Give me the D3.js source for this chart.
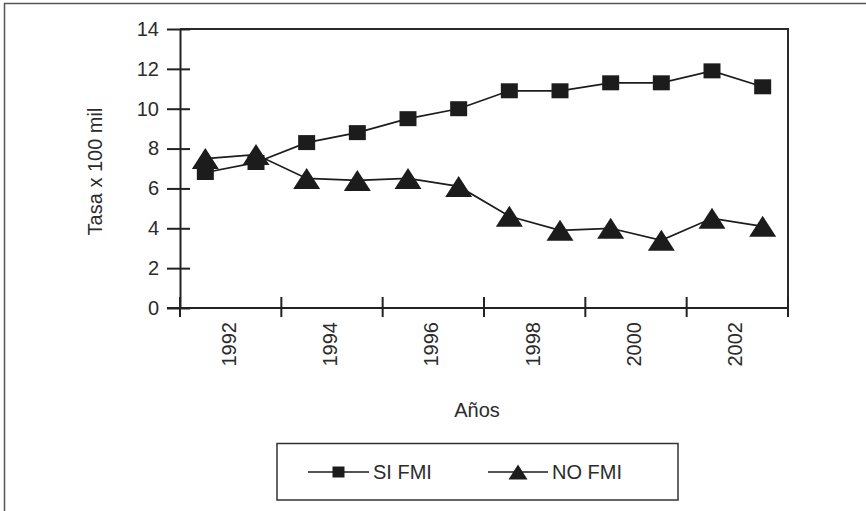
<!DOCTYPE html>
<html>
<head>
<meta charset="utf-8">
<script src="https://cdn.jsdelivr.net/npm/d3@7/dist/d3.min.js"></script>
<style>
  html, body { margin: 0; padding: 0; background: #fff; }
  svg { display: block; }
  text { font-family: "Liberation Sans", Arial, Helvetica, sans-serif; fill: #2b2b2b; }
</style>
</head>
<body>
<svg id="chart" width="866" height="511"></svg>
<script>
// Tasa x 100 mil por año, con y sin FMI
const years = [1992, 1993, 1994, 1995, 1996, 1997, 1998, 1999, 2000, 2001, 2002, 2003];
const siFMI = [6.8, 7.3, 8.3, 8.8, 9.5, 10.0, 10.9, 10.9, 11.3, 11.3, 11.9, 11.1];
const noFMI = [7.5, 7.7, 6.5, 6.4, 6.5, 6.1, 4.6, 3.9, 4.0, 3.4, 4.5, 4.1];
const yTicks = [0, 2, 4, 6, 8, 10, 12, 14];
const labelYears = [1992, 1994, 1996, 1998, 2000, 2002];
const seriesNames = ["SI FMI", "NO FMI"];

const ink = "#1c1c1c";
const svg = d3.select("#chart");

const plot = { left: 180, right: 788, top: 29, bottom: 308 };

const x = d3.scaleBand().domain(years).range([plot.left, plot.right]).padding(0);
const y = d3.scaleLinear().domain([0, 14]).range([plot.bottom, plot.top]);
const cx = d => x(d) + x.bandwidth() / 2;

// outer frame (only top and left edges fall inside the page)
svg.append("line").attr("x1", 4).attr("x2", 866).attr("y1", 3.5).attr("y2", 3.5)
  .attr("stroke", "#555").attr("stroke-width", 1.5);
svg.append("line").attr("x1", 4.5).attr("x2", 4.5).attr("y1", 3).attr("y2", 511)
  .attr("stroke", "#555").attr("stroke-width", 1.5);

// plot frame: top and right edges
svg.append("path")
  .attr("d", `M${plot.left},${y(14)}H${plot.right}V${plot.bottom + 9}`)
  .attr("fill", "none").attr("stroke", "#2a2a2a").attr("stroke-width", 2);

// y axis
const yAxis = svg.append("g")
  .attr("transform", `translate(${plot.left},0)`)
  .call(d3.axisLeft(y).tickValues(yTicks).tickSize(13).tickPadding(8).tickSizeOuter(0));
yAxis.select(".domain").attr("stroke", "#222").attr("stroke-width", 2);
yAxis.selectAll(".tick line").attr("x1", 10).attr("stroke", "#222").attr("stroke-width", 2);
yAxis.selectAll(".tick text").attr("font-size", 20).attr("fill", "#2b2b2b")
  .style("font-family", "'Liberation Sans', Arial, sans-serif");

// x axis line and boundary ticks every two years
svg.append("line").attr("x1", plot.left - 13).attr("x2", plot.right)
  .attr("y1", plot.bottom).attr("y2", plot.bottom)
  .attr("stroke", "#222").attr("stroke-width", 2);
const tickPos = years.filter((d, i) => i % 2 === 0).map(d => x(d)).concat([plot.right]);
svg.append("g").selectAll("line").data(tickPos).join("line")
  .attr("x1", d => d).attr("x2", d => d)
  .attr("y1", plot.bottom - 11).attr("y2", plot.bottom + 9)
  .attr("stroke", "#222").attr("stroke-width", 2);

svg.append("g").selectAll("text").data(labelYears).join("text")
  .attr("transform", d => `translate(${x(d) + x.bandwidth() - 2},${plot.bottom + 14}) rotate(-90)`)
  .attr("text-anchor", "end").attr("dy", "0.35em")
  .attr("font-size", 20)
  .text(d => d);

// axis titles
svg.append("text")
  .attr("transform", `translate(95,${(plot.top + plot.bottom) / 2 + 3}) rotate(-90)`)
  .attr("text-anchor", "middle").attr("dy", "0.35em").attr("font-size", 20)
  .text("Tasa x 100 mil");
svg.append("text").attr("x", 477).attr("y", 417)
  .attr("text-anchor", "middle").attr("font-size", 20).text("Años");

// marker shapes
const squarePath = (w, h) => `M${-w / 2},${-h / 2}h${w}v${h}h${-w}Z`;
const trianglePath = (w, h) => `M0,${-h / 2}L${w / 2},${h / 2}H${-w / 2}Z`;

const line = d3.line().x((d, i) => cx(years[i])).y(d => y(d));

function drawSeries(values, markerPath) {
  const g = svg.append("g");
  g.append("path").datum(values).attr("d", line)
    .attr("fill", "none").attr("stroke", ink).attr("stroke-width", 1.7);
  g.selectAll("path.m").data(values).join("path").attr("class", "m")
    .attr("transform", (d, i) => `translate(${cx(years[i])},${y(d)})`)
    .attr("d", markerPath).attr("fill", ink);
}
drawSeries(siFMI, squarePath(17, 15));
drawSeries(noFMI, trianglePath(27, 21));

// legend
const legend = svg.append("g");
legend.append("rect").attr("x", 277).attr("y", 443.5).attr("width", 401).attr("height", 56.5)
  .attr("fill", "#fff").attr("stroke", "#333").attr("stroke-width", 1.5);
const legendItems = [
  { name: seriesNames[0], x0: 308, x1: 369, shape: squarePath(12, 11) },
  { name: seriesNames[1], x0: 488, x1: 548, shape: trianglePath(19, 15) }
];
legendItems.forEach(it => {
  legend.append("line").attr("x1", it.x0).attr("x2", it.x1).attr("y1", 472).attr("y2", 472)
    .attr("stroke", ink).attr("stroke-width", 1.7);
  legend.append("path").attr("d", it.shape)
    .attr("transform", `translate(${(it.x0 + it.x1) / 2},472)`).attr("fill", ink);
  legend.append("text").attr("x", it.x1 + 4).attr("y", 472).attr("dy", "0.35em")
    .attr("font-size", 20).text(it.name);
});
</script>
</body>
</html>
